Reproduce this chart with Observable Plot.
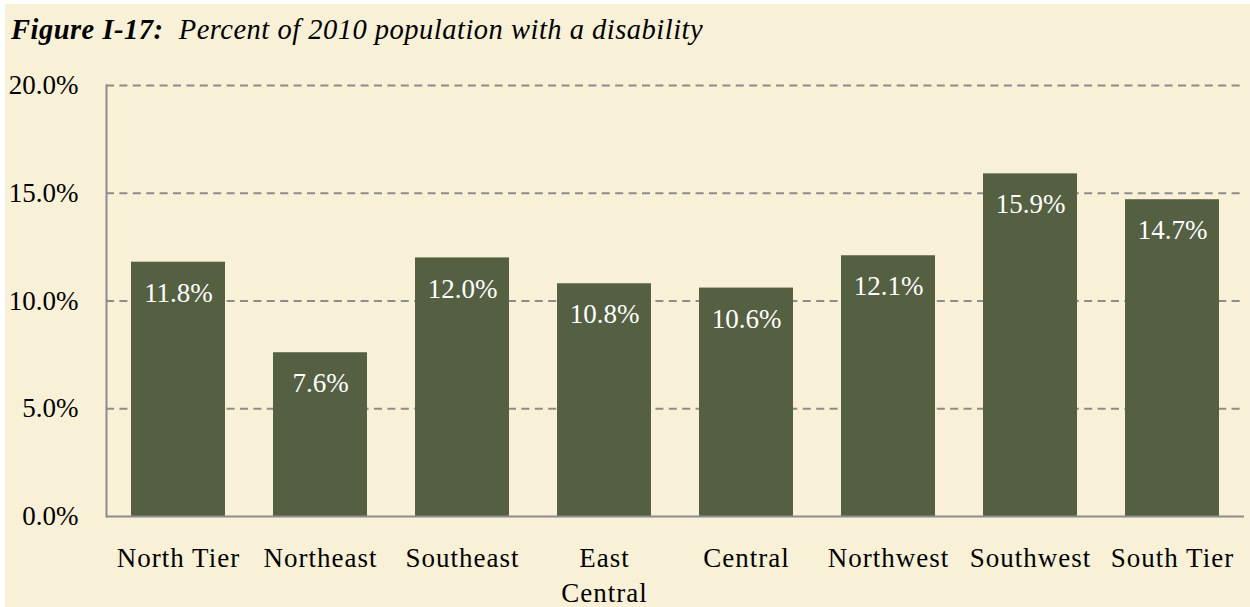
<!DOCTYPE html>
<html>
<head>
<meta charset="utf-8">
<script src="https://cdn.jsdelivr.net/npm/d3@7"></script>
<script src="https://cdn.jsdelivr.net/npm/@observablehq/plot@0.6"></script>
<style>
  html, body { margin: 0; padding: 0; background: #ffffff; }
  #page { position: absolute; left: 5px; top: 4px; width: 1245px; height: 603px; background: #f9f1d7; }
  #title { position: absolute; left: 11px; top: 16px; font-family: "Liberation Serif", serif; font-size: 28.5px; line-height: 28.5px; letter-spacing: 0.5px; font-style: italic; color: #000; white-space: nowrap; }
  #title b { font-weight: bold; }
  #chart { position: absolute; left: 0; top: 60px; }
  #chart g[aria-label="x-axis tick label"] text { letter-spacing: 1px; }
</style>
</head>
<body>
<div id="page"></div>
<div id="title"><b>Figure I-17:</b>&nbsp; Percent of 2010 population with a disability</div>
<div id="chart"></div>
<script>
const regions = ["North Tier", "Northeast", "Southeast", "East Central", "Central", "Northwest", "Southwest", "South Tier"];
const percentDisabled = [11.8, 7.6, 12.0, 10.8, 10.6, 12.1, 15.9, 14.7];
const yTicks = [0, 5, 10, 15, 20];
const gridTicks = [5, 10, 15, 20];

const data = regions.map((r, i) => ({region: r, value: percentDisabled[i]}));

const font = "Liberation Serif";
const chart = Plot.plot({
  width: 1250,
  height: 547,
  marginLeft: 106,
  marginRight: 6,
  marginTop: 25,
  marginBottom: 91,
  style: {background: "transparent", fontFamily: font, fontSize: "27px", color: "#000"},
  x: {domain: regions, paddingInner: 0.337, paddingOuter: 0.1685, label: null},
  y: {domain: [0, 20], ticks: yTicks, label: null},
  marks: [
    Plot.ruleY(gridTicks, {stroke: "#8c8c8c", strokeWidth: 2, strokeDasharray: "8,5.4"}),
    Plot.barY(data, {x: "region", y: "value", fill: "#556043"}),
    Plot.frame({anchor: "left", stroke: "#8c8c8c", strokeWidth: 2}),
    Plot.ruleY([0], {stroke: "#8c8c8c", strokeWidth: 2}),
    Plot.text(data, {x: "region", y: "value", text: d => d.value.toFixed(1) + "%", fill: "#ffffff", fontSize: 27, dy: 31}),
    Plot.axisY({ticks: yTicks, tickSize: 0, tickPadding: 28, fontSize: 27, tickFormat: d => d.toFixed(1) + "%", label: null}),
    Plot.axisX({tickSize: 0, tickPadding: 26, fontSize: 27, lineHeight: 1.28, lineAnchor: "top", tickFormat: d => d === "East Central" ? "East\nCentral" : d, label: null})
  ]
});
document.getElementById("chart").appendChild(chart);
</script>
</body>
</html>
